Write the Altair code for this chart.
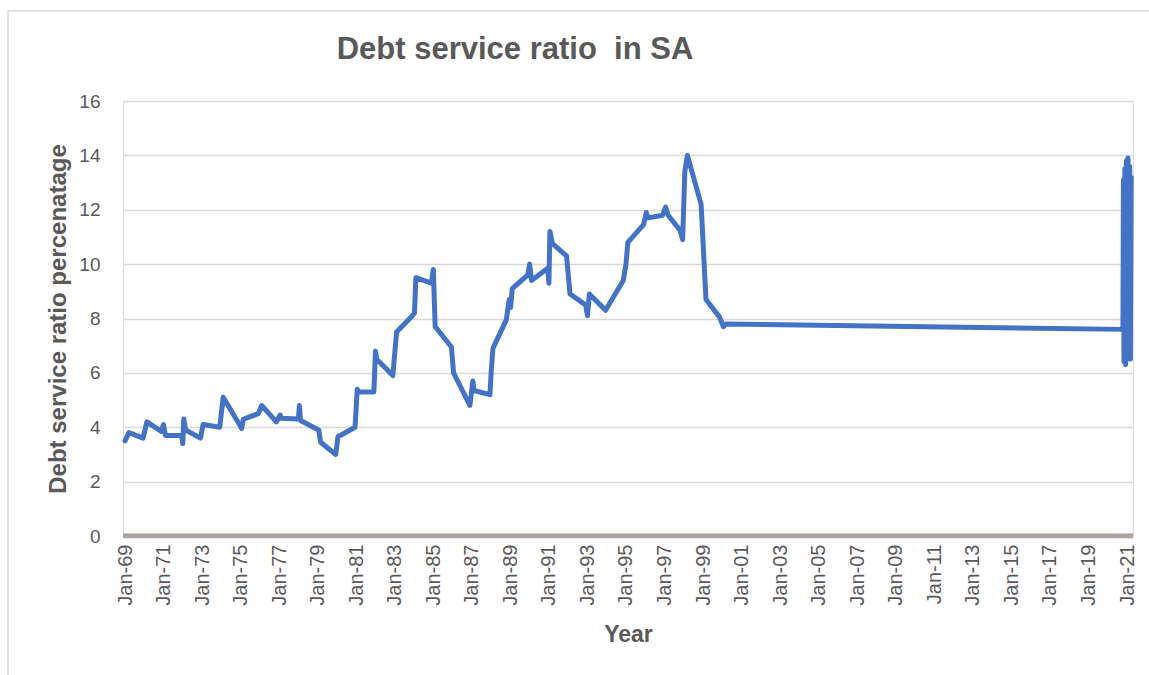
import altair as alt
import pandas as pd

# ---- data ----
dates = [
    "1969-01-01", "1969-03-15", "1969-12-10", "1970-02-20", "1970-11-20",
    "1971-01-01", "1971-02-05", "1971-12-10", "1972-01-01", "1972-01-20",
    "1972-02-25", "1972-12-01", "1973-01-20", "1973-12-01", "1974-02-05",
    "1974-12-10", "1975-01-20", "1975-02-25", "1975-12-01", "1976-02-05",
    "1976-11-10", "1977-01-20", "1977-02-10", "1978-01-01", "1978-01-20",
    "1978-02-10", "1979-01-20", "1979-02-25", "1979-12-10", "1980-01-20",
    "1980-12-10", "1981-01-20", "1981-02-10", "1981-12-01", "1982-01-01",
    "1982-01-25", "1982-11-25", "1983-02-05", "1983-12-01", "1984-01-10",
    "1984-02-05", "1984-11-25", "1985-01-01", "1985-02-05", "1985-12-10",
    "1986-01-20", "1986-11-25", "1987-01-20", "1987-02-10", "1987-12-10",
    "1988-01-05", "1988-02-05", "1988-10-15", "1988-12-10", "1989-01-05",
    "1989-02-05", "1989-11-25", "1990-01-01", "1990-02-05", "1990-12-10",
    "1991-01-01", "1991-01-20", "1991-03-10", "1991-12-01", "1992-02-05",
    "1992-11-25", "1993-01-01", "1993-02-05", "1993-12-10", "1994-11-10",
    "1995-01-01", "1995-02-05", "1995-12-01", "1996-01-20", "1996-02-25",
    "1996-11-25", "1997-01-20", "1997-03-10", "1997-10-20", "1997-12-10",
    "1998-01-20", "1998-03-10", "1998-11-25", "1999-02-25", "1999-11-10",
    "2000-01-20", "2000-03-10", "2020-10-15", "2020-10-25", "2020-11-05",
    "2020-11-20", "2020-12-05", "2020-12-20", "2021-01-05", "2021-01-20",
    "2021-02-05", "2021-02-20", "2021-03-05", "2021-03-20",
]
values = [
    3.5, 3.8, 3.6, 4.2, 3.85,
    4.1, 3.7, 3.7, 3.4, 4.3,
    3.9, 3.6, 4.1, 4.0, 5.1,
    4.1, 3.95, 4.3, 4.5, 4.8,
    4.2, 4.45, 4.33, 4.3, 4.8,
    4.25, 3.9, 3.45, 3.0, 3.65,
    4.0, 5.4, 5.3, 5.3, 6.8,
    6.5, 5.9, 7.5, 8.1, 8.2,
    9.5, 9.3, 9.8, 7.7, 6.95,
    6.0, 4.8, 5.7, 5.35, 5.2,
    6.1, 6.9, 7.95, 8.7, 8.4,
    9.1, 9.6, 10.0, 9.4, 9.85,
    9.3, 11.2, 10.75, 10.3, 8.9,
    8.5, 8.1, 8.9, 8.3, 9.4,
    10.0, 10.8, 11.45, 11.9, 11.7,
    11.8, 12.1, 11.8, 11.25, 10.9,
    13.4, 14.0, 12.2, 8.7, 8.05,
    7.7, 7.8, 7.6, 13.1, 6.4,
    13.5, 6.3, 13.8, 6.5, 13.9,
    6.6, 13.6, 6.5, 13.2,
]
tick_years = list(range(1969, 2022, 2))
y_ticks = [0, 2, 4, 6, 8, 10, 12, 14, 16]

df = pd.DataFrame({"date": dates, "ratio": values})

GREY_TXT = "#595959"
FONT = "Liberation Sans"

x_enc = alt.X(
    "date:T",
    scale=alt.Scale(
        type="utc",
        domain=[alt.DateTime(year=1968, month=11, date=24, utc=True),
                alt.DateTime(year=2021, month=4, date=24, utc=True)],
    ),
    axis=alt.Axis(
        values=[alt.DateTime(year=y, month=1, date=1, utc=True) for y in tick_years],
        labelExpr="utcFormat(datum.value, '%b-%y')",
        labelAngle=270, labelPadding=8, labelFontSize=20, labelColor=GREY_TXT,
        labelFont=FONT, ticks=False, domain=False, grid=False,
        title="Year", titleFont=FONT, titleFontSize=23, titleFontWeight="bold",
        titleColor=GREY_TXT, titlePadding=18, labelOverlap=False,
    ),
)
y_enc = alt.Y(
    "ratio:Q",
    scale=alt.Scale(domain=[0, 16], nice=False, zero=True),
    axis=alt.Axis(
        values=y_ticks, labelFontSize=19, labelColor=GREY_TXT, labelFont=FONT,
        labelPadding=23, ticks=False, domain=False,
        grid=True, gridColor="#D9D9D9", gridWidth=1.5,
        title="Debt service ratio percenatage", titleFont=FONT, titleFontSize=24,
        titleFontWeight="bold", titleColor=GREY_TXT, titlePadding=8,
    ),
)

line = alt.Chart(df).mark_line(
    color="#4472C4", strokeWidth=5, strokeJoin="round", strokeCap="round"
).encode(x=x_enc, y=y_enc)

zero_df = pd.DataFrame({"z": [0]})
zero_orange = alt.Chart(zero_df).mark_rule(
    color="#ED7D31", strokeWidth=1.5, yOffset=-2, opacity=0.5
).encode(y=alt.Y("z:Q"))
zero_grey = alt.Chart(zero_df).mark_rule(
    color="#A6A6A6", strokeWidth=4.5
).encode(y=alt.Y("z:Q"))

frame = alt.Chart(zero_df).mark_rect(
    fillOpacity=0, stroke="#D9D9D9", strokeWidth=1.5
).encode(x=alt.value(-115), x2=alt.value(1100), y=alt.value(-90), y2=alt.value(700))

chart = alt.layer(frame, line, zero_orange, zero_grey).properties(
    width=1010, height=435,
    title=alt.TitleParams(
        "Debt service ratio\u00a0 in SA", font=FONT, fontSize=31, fontWeight="bold",
        color=GREY_TXT, anchor="middle", frame="group", dx=-113,
        baseline="alphabetic", offset=-80,
    ),
    autosize=alt.AutoSizeParams(type="none"),
    padding={"left": 123, "top": 101, "right": 16, "bottom": 139},
).configure_view(stroke=None).configure(background="white")

chart.save("out.html", embed_options={"renderer": "svg", "actions": False})
